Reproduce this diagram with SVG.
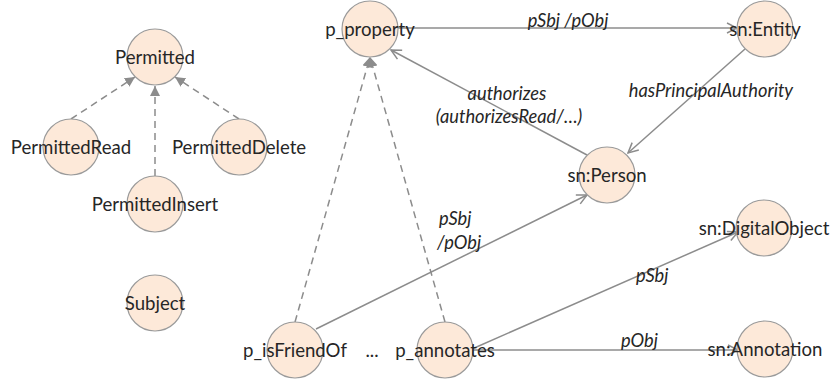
<svg xmlns="http://www.w3.org/2000/svg" width="831" height="383" viewBox="0 0 831 383">
  <style>
    .node circle { fill: #fde9d9; stroke: #9a9a9a; stroke-width: 1.2; }
    .node text { font-family: Lato, "Liberation Sans", sans-serif; font-size: 18.6px; fill: #262626; text-anchor: middle; }
    .edge { stroke: #8c8c8c; stroke-width: 1.5; fill: none; }
    .sub { stroke-dasharray: 7 5; marker-end: url(#tri); }
    .rel { marker-end: url(#vee); }
    .lbl { font-family: Lato, "Liberation Sans", sans-serif; font-size: 18.3px; font-style: italic; fill: #262626; }
    .plain { font-family: Lato, "Liberation Sans", sans-serif; font-size: 18.6px; fill: #262626; }
  </style>
  <defs>
    <marker id="tri" viewBox="0 0 10 10" refX="10" refY="5" markerWidth="10" markerHeight="10" markerUnits="userSpaceOnUse" orient="auto">
      <path d="M0,0 L10,5 L0,10 Z" fill="#8c8c8c"/>
    </marker>
    <marker id="vee" viewBox="0 0 12 12" refX="11" refY="6" markerWidth="12" markerHeight="12" markerUnits="userSpaceOnUse" orient="auto">
      <path d="M1,1 L11,6 L1,11" fill="none" stroke="#8c8c8c" stroke-width="1.5"/>
    </marker>
  </defs>

  <!-- connectors -->
  <g id="edges">
    <line class="edge sub" x1="71" y1="119" x2="135" y2="77"/>
    <line class="edge sub" x1="155" y1="176" x2="155" y2="86"/>
    <line class="edge sub" x1="239" y1="119" x2="175" y2="77"/>
    <line class="edge sub" x1="295" y1="322" x2="370" y2="57"/>
    <line class="edge sub" x1="445" y1="322" x2="370" y2="57"/>
    <line class="edge rel" x1="398" y1="28" x2="737" y2="28"/>
    <line class="edge rel" x1="587" y1="155" x2="391" y2="50"/>
    <line class="edge rel" x1="745" y1="49" x2="628" y2="153"/>
    <line class="edge rel" x1="316" y1="329" x2="587" y2="195"/>
    <line class="edge rel" x1="472" y1="349" x2="738" y2="232"/>
    <line class="edge rel" x1="473" y1="350" x2="738" y2="350"/>
    <text class="lbl" x="568" y="27" text-anchor="middle">pSbj /pObj</text>
    <text class="lbl" x="507" y="100" text-anchor="middle">authorizes</text>
    <text class="lbl" x="509" y="123" text-anchor="middle">(authorizesRead/…)</text>
    <text class="lbl" x="711" y="97" text-anchor="middle">hasPrincipalAuthority</text>
    <text class="lbl" x="439" y="225">pSbj</text>
    <text class="lbl" x="437" y="249">/pObj</text>
    <text class="lbl" x="636" y="282">pSbj</text>
    <text class="lbl" x="621" y="347">pObj</text>
  </g>

  <!-- nodes -->
  <g id="Permitted" class="node"><circle cx="155" cy="57" r="28"/><text x="155" y="64">Permitted</text></g>
  <g id="PermittedRead" class="node"><circle cx="71" cy="147" r="28"/><text x="71" y="154">PermittedRead</text></g>
  <g id="PermittedInsert" class="node"><circle cx="155" cy="204" r="28"/><text x="155" y="211">PermittedInsert</text></g>
  <g id="PermittedDelete" class="node"><circle cx="239" cy="147" r="28"/><text x="239" y="154">PermittedDelete</text></g>
  <g id="Subject" class="node"><circle cx="155" cy="303" r="28"/><text x="155" y="310">Subject</text></g>
  <g id="p_property" class="node"><circle cx="370" cy="29" r="28"/><text x="370" y="36">p_property</text></g>
  <g id="sn_Entity" class="node"><circle cx="765" cy="29" r="28"/><text x="765" y="36">sn:Entity</text></g>
  <g id="sn_Person" class="node"><circle cx="607" cy="175" r="28"/><text x="607" y="182">sn:Person</text></g>
  <g id="sn_DigitalObject" class="node"><circle cx="764" cy="228" r="28"/><text x="764" y="235">sn:DigitalObject</text></g>
  <g id="sn_Annotation" class="node"><circle cx="765" cy="349" r="28"/><text x="765" y="356">sn:Annotation</text></g>
  <g id="p_isFriendOf" class="node"><circle cx="295" cy="350" r="28"/><text x="295" y="357">p_isFriendOf</text></g>
  <g id="p_annotates" class="node"><circle cx="445" cy="350" r="28"/><text x="445" y="357">p_annotates</text></g>
  <text class="plain" x="372" y="357" text-anchor="middle">...</text>
</svg>
